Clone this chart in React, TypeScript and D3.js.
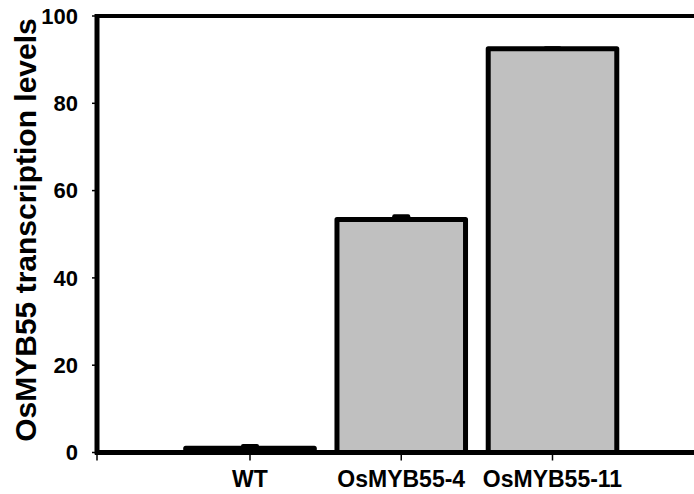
import React, { useEffect, useRef } from 'react';
import * as d3 from 'd3';

const categories = ['WT', 'OsMYB55-4', 'OsMYB55-11'];
const levels = [1.0, 53.4, 92.5];
const errors = [0.5, 0.7, 0.1];
const yTicks = [0, 20, 40, 60, 80, 100];
const yLabel = 'OsMYB55 transcription levels';

const W = 694;
const H = 494;

const App = () => {
  const ref = useRef<SVGSVGElement | null>(null);

  useEffect(() => {
    const svg = d3.select(ref.current);
    svg.selectAll('*').remove();

    const left = 97;
    const font = 'Arial, "Liberation Sans", sans-serif';

    const y = d3.scaleLinear().domain([0, 100]).range([452.5, 16]);
    const x = d3.scalePoint<string>().domain(categories).range([250, 552.5]);
    const step = x.step();
    const barW = step * 0.85;

    const data = categories.map((c, i) => ({ c, v: levels[i], e: errors[i] }));

    // bars
    svg.append('g')
      .selectAll('rect')
      .data(data)
      .enter()
      .append('rect')
      .attr('x', d => (x(d.c) as number) - barW / 2)
      .attr('y', d => y(d.v))
      .attr('width', barW)
      .attr('height', d => y(0) - y(d.v))
      .attr('fill', '#c0c0c0')
      .attr('stroke', '#000')
      .attr('stroke-width', 5)
      .attr('stroke-linejoin', 'round');

    // error caps
    svg.append('g')
      .selectAll('line')
      .data(data)
      .enter()
      .append('line')
      .attr('x1', d => (x(d.c) as number) - 7)
      .attr('x2', d => (x(d.c) as number) + 7)
      .attr('y1', d => y(d.v + d.e))
      .attr('y2', d => y(d.v + d.e))
      .attr('stroke', '#000')
      .attr('stroke-width', 4)
      .attr('stroke-linecap', 'round');

    // top frame line
    svg.append('line')
      .attr('x1', left).attr('x2', W)
      .attr('y1', y(100)).attr('y2', y(100))
      .attr('stroke', '#000').attr('stroke-width', 4);

    // y axis
    const yAxis = svg.append('g');
    yAxis.append('line')
      .attr('x1', left).attr('x2', left)
      .attr('y1', y(100) - 2).attr('y2', y(0) + 2)
      .attr('stroke', '#000').attr('stroke-width', 5);
    yAxis.selectAll('line.tick')
      .data(yTicks)
      .enter()
      .append('line')
      .attr('class', 'tick')
      .attr('x1', left - 5).attr('x2', left)
      .attr('y1', d => y(d)).attr('y2', d => y(d))
      .attr('stroke', '#000').attr('stroke-width', 1.5);
    yAxis.selectAll('text')
      .data(yTicks)
      .enter()
      .append('text')
      .attr('x', 78)
      .attr('y', d => y(d))
      .attr('dy', '0.35em')
      .attr('text-anchor', 'end')
      .style('font-family', font)
      .style('font-weight', 'bold')
      .style('font-size', '22px')
      .text(d => d);

    // x axis
    const xAxis = svg.append('g');
    xAxis.append('line')
      .attr('x1', left - 2).attr('x2', W)
      .attr('y1', y(0)).attr('y2', y(0))
      .attr('stroke', '#000').attr('stroke-width', 5);
    const tickX = [left, ...categories.map(c => x(c) as number)];
    xAxis.selectAll('line.tick')
      .data(tickX)
      .enter()
      .append('line')
      .attr('class', 'tick')
      .attr('x1', d => d).attr('x2', d => d)
      .attr('y1', y(0)).attr('y2', y(0) + 8)
      .attr('stroke', '#000').attr('stroke-width', 1.5);
    xAxis.selectAll('text')
      .data(categories)
      .enter()
      .append('text')
      .attr('x', d => x(d) as number)
      .attr('y', 487)
      .attr('text-anchor', 'middle')
      .style('font-family', font)
      .style('font-weight', 'bold')
      .style('font-size', '23px')
      .text(d => d);

    // y label
    svg.append('text')
      .attr('transform', `translate(36,230) rotate(-90)`)
      .attr('text-anchor', 'middle')
      .style('font-family', font)
      .style('font-weight', 'bold')
      .style('font-size', '30px')
      .text(yLabel);
  }, []);

  return (
    <svg
      ref={ref}
      width={W}
      height={H}
      style={{ position: 'absolute', left: 0, top: 0, background: '#fff' }}
    />
  );
};

export default App;
